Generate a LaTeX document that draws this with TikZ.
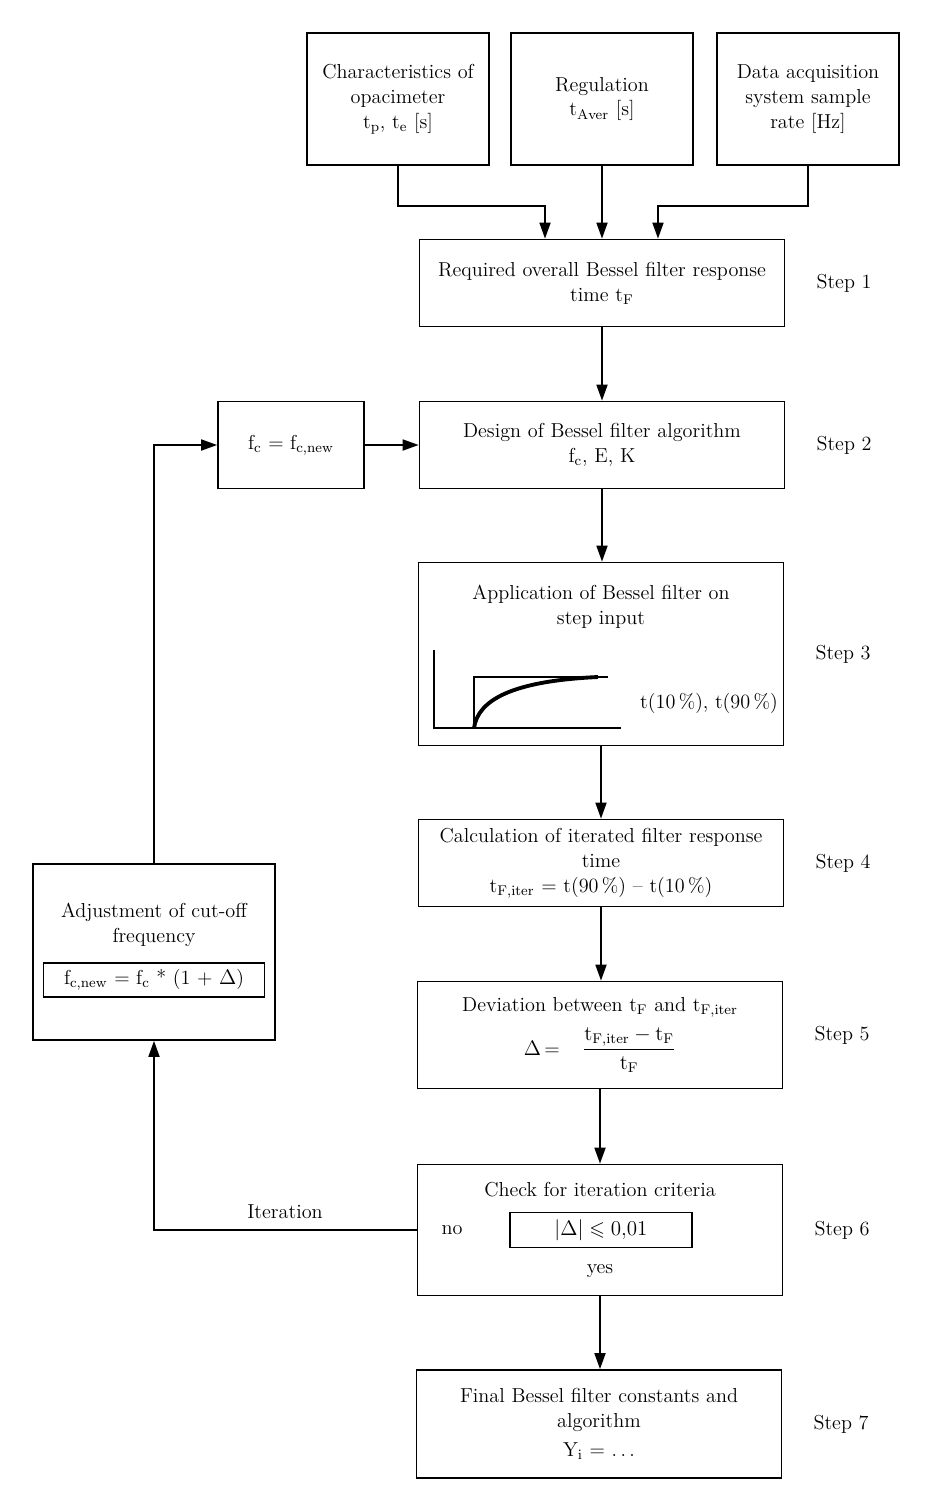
\documentclass[tikz,border=0pt]{standalone}
\usepackage{amsmath,amssymb}
\usetikzlibrary{arrows.meta,positioning,calc}
\newcommand{\flowfont}{\fontsize{11.5}{14.2}\selectfont}
\newcommand{\lsub}[1]{$_{\mathrm{#1}}$}
\newcommand{\tsym}[1]{\mathrm{t}_{\mathrm{#1}}}
\tikzset{
  stepbox/.style={draw,line width=1pt,align=center,minimum width=7.3cm,
    text width=6.9cm,font=\flowfont,inner sep=0pt},
  inputbox/.style={draw,line width=1pt,align=center,minimum width=3.64cm,
    minimum height=2.64cm,text width=3.3cm,font=\flowfont,inner sep=0pt},
  sidebox/.style={draw,line width=1pt,align=center,font=\flowfont,inner sep=0pt},
  flowtext/.style={font=\flowfont,align=center,inner sep=1pt},
  steplabel/.style={font=\flowfont,anchor=west},
  flowarrow/.style={-{Triangle[length=3.2mm,width=2.2mm]},line width=1pt}
}
\begin{document}
\begin{tikzpicture}[x=0.02cm,y=-0.02cm]
  \useasboundingbox (0,0) rectangle (928,1511);
  % inputs
  \node[inputbox] (opa) at (398,99) {Characteristics of\\opacimeter\\t\lsub{p}, t\lsub{e} [s]};
  \node[inputbox] (reg) at (602,99) {Regulation\\t\lsub{Aver} [s]};
  \node[inputbox] (daq) at (808,99) {Data acquisition\\system sample\\rate [Hz]};
  % main chain
  \node[stepbox,minimum height=1.74cm] (s1) at (602,283) {Required overall Bessel filter response\\time t\lsub{F}};
  \node[stepbox,minimum height=1.74cm] (s2) at (602,445) {Design of Bessel filter algorithm\\f\lsub{c}, E, K};
  \node[stepbox,minimum height=3.66cm] (s3) at (601,654) {};
  \node[stepbox,minimum height=1.74cm] (s4) at (601,863) {Calculation of iterated filter response\\time\\t\lsub{F,iter} = t(90\,\%) -- t(10\,\%)};
  \node[stepbox,minimum height=2.14cm] (s5) at (600,1035) {Deviation between t\lsub{F} and t\lsub{F,iter}\\[5pt]
    $\Delta$\,=\hspace{0.45cm}$\dfrac{\tsym{F,iter} - \tsym{F}}{\tsym{F}}$\hspace{0.6cm}};
  \node[stepbox,minimum height=2.62cm] (s6) at (600,1230) {};
  \node[stepbox,minimum height=2.16cm] (s7) at (599,1424) {Final Bessel filter constants and\\algorithm\\[2pt]Y\lsub{i} = .\,.\,.};
  % contents of step 3 and step 6
  \node[flowtext] (s3t) at (601,607) {Application of Bessel filter on\\step input};
  \node[flowtext] (s3r) at (709,703) {t(10\,\%), t(90\,\%)};
  \draw[line width=1pt] (434,650) -- (434,728) -- (621,728);
  \draw[line width=1.2pt] (474,728) -- (474,677) -- (608,677);
  \draw[line width=2.2pt] (474,728) .. controls (478,700) and (512,681) .. (598,677);
  \node[flowtext] (s6t) at (600,1190) {Check for iteration criteria};
  \node[sidebox,minimum width=3.64cm,minimum height=0.7cm] (crit) at (601,1230) {$|\Delta| \leqslant 0{,}01$};
  \node[flowtext] (s6n) at (452,1230) {no};
  \node[flowtext] (s6y) at (600,1271) {yes};
  % feedback loop
  \node[sidebox,minimum width=2.92cm,minimum height=1.74cm] (fcn) at (291,445) {f\lsub{c} = f\lsub{c,new}};
  \node[sidebox,minimum width=4.84cm,minimum height=3.52cm] (adj) at (154,952) {};
  \node[flowtext] (adjt) at (154,925) {Adjustment of cut-off\\frequency};
  \node[sidebox,minimum width=4.42cm,minimum height=0.68cm] (adjeq) at (154,980) {f\lsub{c,new} = f\lsub{c} * (1 + $\Delta$)};
  % step labels
  \foreach \n in {1,...,7}
    \node[steplabel,right=0.5cm of s\n] (l\n) {Step \n};
  % connectors
  \draw[flowarrow] (opa.south) -- ++(0,40) -| ([xshift=-1.14cm]s1.north);
  \draw[flowarrow] (reg.south) -- (s1.north);
  \draw[flowarrow] (daq.south) -- ++(0,40) -| ([xshift=1.12cm]s1.north);
  \foreach \a/\b in {s1/s2,s2/s3,s3/s4,s4/s5,s5/s6,s6/s7}
    \draw[flowarrow] (\a.south) -- (\a.south |- \b.north);
  \draw[flowarrow] (fcn) -- (s2);
  \draw[flowarrow] (s6.west) -| (adj.south);
  \node[flowtext] (itlab) at (285,1212) {Iteration};
  \draw[flowarrow] (adj.north) |- (fcn.west);
\end{tikzpicture}
\end{document}
